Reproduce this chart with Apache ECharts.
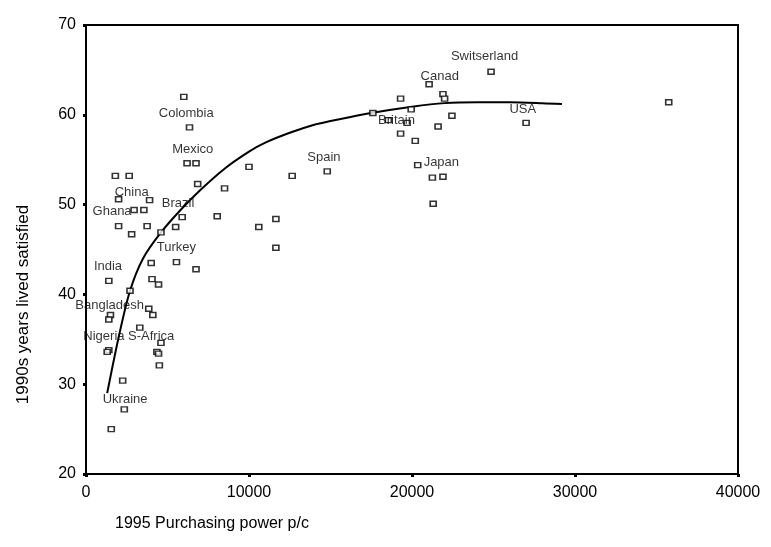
<!DOCTYPE html>
<html>
<head>
<meta charset="utf-8">
<script src="https://cdn.jsdelivr.net/npm/echarts@6/dist/echarts.min.js"></script>
<style>
html,body{margin:0;padding:0;background:#fff;}
#chart{width:771px;height:547px;}
</style>
</head>
<body>
<div id="chart"></div>
<script>
// Country observations: purchasing power per capita (1995) vs happy life years (1990s)
const ppp = [6000,6350,6200,6750,6850,8500,1800,2650,2000,3900,2950,3550,5900,8050,2000,3750,2800,4600,5500,4000,5550,6750,1400,4050,4450,2700,3850,4100,1500,1400,3300,4600,1400,1300,4350,4450,4500,2250,2350,1550,10000,12650,14800,11650,10600,11650,24850,21050,21900,22000,19300,19950,17600,18550,19700,22450,21600,19300,20200,20350,21250,21900,21300,27000,35750];
const yearsSatisfied = [62.0,58.6,54.6,54.6,52.3,51.8,53.2,53.2,50.6,50.5,49.4,49.4,48.6,48.7,47.6,47.6,46.7,46.9,47.5,43.5,43.6,42.8,41.5,41.7,41.1,40.4,38.4,37.7,37.7,37.2,36.3,34.6,33.8,33.6,33.6,33.4,32.1,30.4,27.2,25.0,54.2,53.2,53.7,48.4,47.5,45.2,64.8,63.4,62.3,61.8,61.8,60.6,60.2,59.4,59.1,59.9,58.7,57.9,57.1,54.4,53.0,53.1,50.1,59.1,61.4];

// Fitted curve
const fitX = [1300,2000,2700,3500,4600,5800,7000,8500,10000,11000,12500,14000,15000,17500,20000,22000,24000,26000,28000,29200];
const fitY = [29.0,35.2,40.4,44.0,46.9,49.4,51.6,54.0,55.9,56.9,58.0,58.9,59.3,60.2,60.9,61.3,61.4,61.4,61.3,61.2];

// Country labels
const labelNames = ['Switserland','Canad','Colombia','Mexico','Spain','Britain','USA','Japan','China','Brazil','Ghana','Turkey','India','Bangladesh','Nigeria','S-Africa','Ukraine'];
const labelX = [24450,21700,6150,6550,14600,19050,26800,21800,2800,5650,1600,5550,1350,1450,1100,4000,2400];
const labelY = [66.5,64.3,60.2,56.1,55.3,59.4,60.6,54.7,51.4,50.1,49.2,45.25,43.1,38.8,35.3,35.3,28.35];

// Axis ticks
const xTicks = {min:0, max:40000, interval:10000};
const yTicks = {min:20, max:70, interval:10};

const FONT = 'Liberation Sans, Arial, Helvetica, sans-serif';

const chart = echarts.init(document.getElementById('chart'), null, {renderer:'canvas'});
chart.setOption({
  backgroundColor:'#fff',
  animation:false,
  grid:{left:86, right:33, top:25, bottom:73, show:true, borderColor:'#000', borderWidth:2, backgroundColor:'transparent'},
  xAxis:{
    type:'value', min:xTicks.min, max:xTicks.max, interval:xTicks.interval,
    name:'1995 Purchasing power p/c', nameLocation:'middle', nameGap:42,
    nameTextStyle:{fontFamily:FONT, fontSize:16, color:'#000', padding:[0,400,0,0]},
    axisLine:{show:true, onZero:false, lineStyle:{color:'#000', width:2}},
    axisTick:{show:true, inside:false, length:3, lineStyle:{color:'#000', width:3}},
    axisLabel:{fontFamily:FONT, fontSize:16, color:'#000', margin:11, formatter:v=>String(v)},
    splitLine:{show:false}
  },
  yAxis:{
    type:'value', min:yTicks.min, max:yTicks.max, interval:yTicks.interval,
    name:'1990s years lived satisfied', nameLocation:'middle', nameGap:54, nameRotate:90,
    nameTextStyle:{fontFamily:FONT, fontSize:17, color:'#000', padding:[0,110,0,0]},
    axisLine:{show:true, onZero:false, lineStyle:{color:'#000', width:2}},
    axisTick:{show:true, inside:false, length:3, lineStyle:{color:'#000', width:3}},
    axisLabel:{fontFamily:FONT, fontSize:16, color:'#000', margin:10, formatter:v=>String(v)},
    splitLine:{show:false}
  },
  series:[
    {
      type:'line', smooth:0.3, symbol:'none', z:3,
      lineStyle:{color:'#000', width:2},
      data: fitX.map((x,i)=>[x, fitY[i]])
    },
    {
      type:'scatter', symbol:'rect', symbolSize:[6,5], z:4,
      itemStyle:{color:'#fff', borderColor:'#000', borderWidth:1.5},
      data: ppp.map((x,i)=>[x, yearsSatisfied[i]])
    },
    {
      type:'scatter', symbolSize:1, z:5, silent:true,
      itemStyle:{color:'rgba(0,0,0,0)'},
      label:{show:true, position:'inside', formatter:p=>p.value[2], fontFamily:FONT, fontSize:13, color:'#000'},
      data: labelNames.map((n,i)=>[labelX[i], labelY[i], n])
    }
  ]
});
</script>
</body>
</html>
